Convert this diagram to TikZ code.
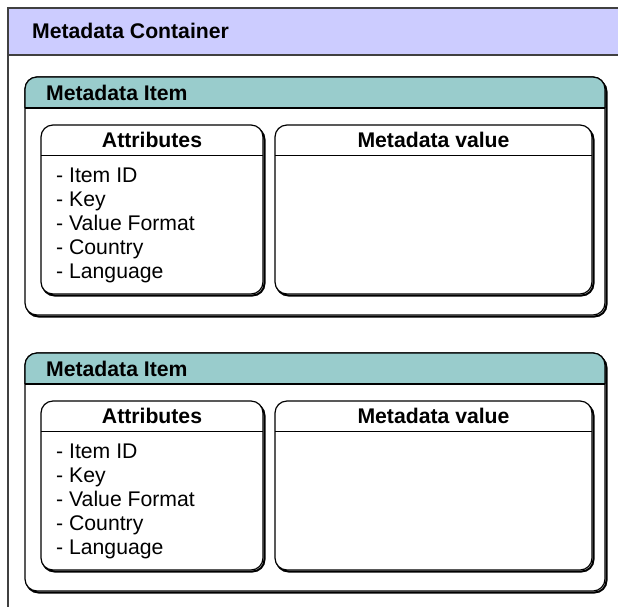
\documentclass[tikz,border=0pt]{standalone}
\usepackage{fontspec}
\setmainfont{Liberation Sans}
\usetikzlibrary{positioning}

\definecolor{containerblue}{HTML}{CCCCFF}
\definecolor{itemteal}{HTML}{99CCCC}

\tikzset{
  frameline/.style={draw=black!75, line width=1.3pt},
  boxline/.style={draw=black, line width=1.2pt, rounded corners=12pt},
  boxshadow/.style={draw=black, line width=2pt, rounded corners=12pt},
  title/.style={font=\fontsize{21.2}{24}\selectfont\bfseries, inner sep=0pt},
  entry/.style={font=\fontsize{21.2}{24}\selectfont, inner sep=0pt},
}

\begin{document}
\begin{tikzpicture}[x=1pt,y=-1pt]
\useasboundingbox (0,0) rectangle (618,606);

% container with its header bar
\fill[containerblue] (8,8) rectangle (620,55);
\draw[frameline] (620,8) -- (8,8) -- (8,608);
\draw[frameline] (8,55) -- (620,55);
\node[title, anchor=base west] (container) at (32,38) {Metadata Container};

% two metadata items
\foreach \n/\dy in {1/0, 2/276} {
  \begin{scope}[shift={(0,\dy)}]
    % item frame
    \draw[boxshadow] (26.5,79.5) rectangle (606.5,316.5);
    \filldraw[boxline, fill=white] (25,77) rectangle (605,315);
    \fill[itemteal] (25,108) [rounded corners=12pt] -- (25,77) -- (605,77)
      [sharp corners] -- (605,108) -- cycle;
    \draw[boxline] (25,108) [rounded corners=12pt] -- (25,77) -- (605,77)
      [sharp corners] -- (605,108);
    \draw[line width=1.2pt] (25,108) -- (605,108);
    \node[title, anchor=base west] (item\n) at (46,100) {Metadata Item};

    % attributes box
    \draw[boxshadow] (42.5,127.5) rectangle (264.5,295.5);
    \filldraw[boxline, fill=white] (41,125) rectangle (263,294);
    \draw[line width=1pt] (41,155) -- (263,155);
    \node[title, anchor=base] (attr\n) at (152,147) {Attributes};
    \foreach \txt [count=\k] in {Item ID, Key, Value Format, Country, Language}
      \node[entry, anchor=base west] (attr\n-\k) at (56,{158+24*\k}) {- \txt};

    % value box
    \draw[boxshadow] (276.5,127.5) rectangle (593.5,295.5);
    \filldraw[boxline, fill=white] (275,125) rectangle (592,294);
    \draw[line width=1pt] (275,155) -- (592,155);
    \node[title, anchor=base] (value\n) at (433.5,147) {Metadata value};
  \end{scope}
}
\end{tikzpicture}
\end{document}
